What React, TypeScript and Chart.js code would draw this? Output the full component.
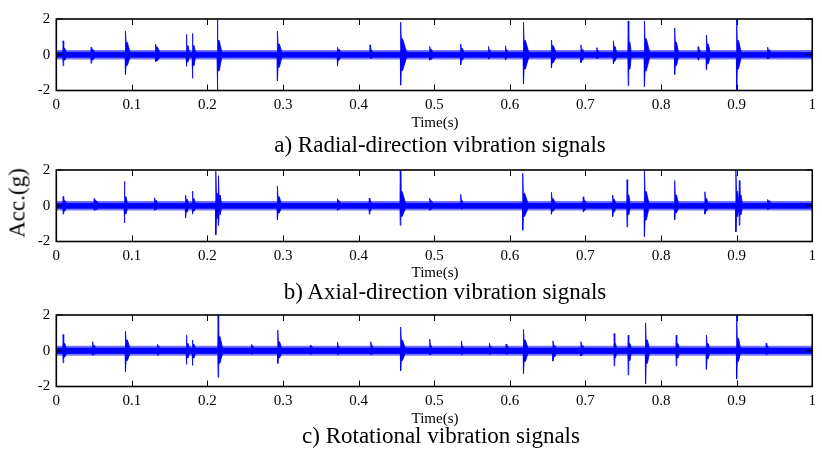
import React, { useEffect, useRef } from 'react';
import { Chart, registerables } from 'chart.js';

Chart.register(...registerables);

// ---------- data ----------
const timeTickValues = [0, 0.1, 0.2, 0.3, 0.4, 0.5, 0.6, 0.7, 0.8, 0.9, 1];
const timeTickLabels = ['0', '0.1', '0.2', '0.3', '0.4', '0.5', '0.6', '0.7', '0.8', '0.9', '1'];
const accTickValues = [-2, 0, 2];
const accTickLabels = ['-2', '0', '2'];

// noise floor of each signal: [dense core half-width, outer fringe half-width] (g)
const radialNoise = [0.14, 0.26];
const axialNoise = [0.14, 0.26];
const rotationalNoise = [0.15, 0.28];

// impact bursts: [time (s), peak (g), trough (g), body peak (g), body trough (g), duration (s)]
const radialBursts: number[][] = [
  [0.009, 0.78, -0.62, 0.35, -0.3, 0.004],
  [0.046, 0.42, -0.48, 0.3, -0.3, 0.005],
  [0.0915, 1.32, -1.1, 0.7, -0.6, 0.006],
  [0.131, 0.6, -0.39, 0.45, -0.35, 0.006],
  [0.172, 1.14, -0.65, 0.5, -0.4, 0.004],
  [0.18, 1.19, -1.32, 0.5, -0.6, 0.004],
  [0.213, 2.0, -2.0, 0.8, -0.9, 0.006],
  [0.2925, 1.32, -1.46, 0.6, -0.7, 0.006],
  [0.372, 0.42, -0.62, 0.3, -0.3, 0.004],
  [0.415, 0.55, -0.15, 0.3, -0.2, 0.003],
  [0.4555, 1.82, -1.7, 0.9, -0.9, 0.008],
  [0.494, 0.46, -0.3, 0.3, -0.25, 0.004],
  [0.535, 0.6, -0.56, 0.35, -0.3, 0.004],
  [0.5715, 0.47, -0.25, 0.3, -0.2, 0.003],
  [0.594, 0.5, -0.3, 0.3, -0.2, 0.003],
  [0.618, 1.82, -1.64, 0.8, -0.8, 0.007],
  [0.655, 0.82, -0.74, 0.5, -0.45, 0.006],
  [0.694, 0.55, -0.45, 0.3, -0.3, 0.004],
  [0.715, 0.4, -0.2, 0.25, -0.2, 0.003],
  [0.737, 0.78, -0.51, 0.45, -0.35, 0.004],
  [0.7565, 1.89, -1.73, 0.7, -0.8, 0.004],
  [0.778, 1.89, -1.77, 0.9, -0.9, 0.007],
  [0.818, 1.5, -1.1, 0.7, -0.6, 0.005],
  [0.849, 0.45, -0.3, 0.3, -0.2, 0.003],
  [0.86, 1.1, -0.83, 0.6, -0.5, 0.005],
  [0.9, 2.0, -2.0, 0.8, -0.8, 0.006],
  [0.941, 0.42, -0.22, 0.28, -0.2, 0.004],
];

const axialBursts: number[][] = [
  [0.009, 0.52, -0.47, 0.3, -0.3, 0.004],
  [0.05, 0.4, -0.25, 0.3, -0.22, 0.006],
  [0.09, 1.36, -0.96, 0.5, -0.45, 0.004],
  [0.13, 0.45, -0.25, 0.3, -0.2, 0.004],
  [0.171, 0.6, -0.68, 0.35, -0.35, 0.004],
  [0.18, 0.82, -0.47, 0.4, -0.3, 0.004],
  [0.211, 1.93, -1.63, 0.7, -0.7, 0.005],
  [0.2145, 1.68, -1.1, 0.6, -0.5, 0.004],
  [0.2925, 1.1, -0.79, 0.5, -0.4, 0.005],
  [0.372, 0.4, -0.25, 0.28, -0.2, 0.004],
  [0.414, 0.42, -0.47, 0.28, -0.3, 0.003],
  [0.455, 2.0, -1.1, 0.8, -0.6, 0.007],
  [0.494, 0.42, -0.25, 0.28, -0.2, 0.004],
  [0.535, 0.64, -0.15, 0.3, -0.18, 0.003],
  [0.617, 1.82, -1.37, 0.7, -0.6, 0.007],
  [0.655, 0.75, -0.47, 0.4, -0.3, 0.005],
  [0.697, 0.5, -0.35, 0.3, -0.25, 0.004],
  [0.736, 0.6, -0.61, 0.35, -0.35, 0.004],
  [0.755, 1.46, -1.19, 0.6, -0.5, 0.004],
  [0.778, 2.0, -1.72, 0.8, -0.8, 0.006],
  [0.818, 1.41, -0.79, 0.6, -0.4, 0.005],
  [0.858, 0.78, -0.47, 0.4, -0.3, 0.004],
  [0.899, 2.0, -1.46, 0.8, -0.6, 0.004],
  [0.9035, 1.41, -1.1, 0.6, -0.5, 0.004],
  [0.941, 0.35, -0.2, 0.28, -0.18, 0.004],
];

const rotationalBursts: number[][] = [
  [0.009, 0.91, -0.67, 0.4, -0.35, 0.004],
  [0.048, 0.51, -0.25, 0.3, -0.2, 0.004],
  [0.0915, 1.09, -1.16, 0.6, -0.55, 0.006],
  [0.134, 0.35, -0.25, 0.28, -0.2, 0.003],
  [0.172, 0.87, -0.76, 0.4, -0.4, 0.004],
  [0.18, 0.6, -0.82, 0.35, -0.4, 0.004],
  [0.214, 2.0, -1.49, 0.8, -0.7, 0.006],
  [0.258, 0.35, -0.2, 0.28, -0.18, 0.003],
  [0.293, 1.15, -0.71, 0.5, -0.4, 0.005],
  [0.336, 0.3, -0.2, 0.26, -0.18, 0.003],
  [0.372, 0.48, -0.22, 0.3, -0.2, 0.003],
  [0.416, 0.51, -0.2, 0.3, -0.2, 0.003],
  [0.4555, 1.33, -1.13, 0.6, -0.55, 0.006],
  [0.494, 0.65, -0.22, 0.3, -0.2, 0.003],
  [0.536, 0.55, -0.22, 0.3, -0.2, 0.003],
  [0.573, 0.42, -0.2, 0.28, -0.18, 0.003],
  [0.595, 0.38, -0.2, 0.28, -0.18, 0.003],
  [0.618, 1.2, -1.27, 0.6, -0.6, 0.006],
  [0.657, 0.55, -0.58, 0.3, -0.35, 0.004],
  [0.694, 0.51, -0.3, 0.3, -0.22, 0.004],
  [0.738, 0.96, -0.85, 0.4, -0.4, 0.003],
  [0.7565, 0.87, -1.35, 0.4, -0.55, 0.004],
  [0.7795, 1.56, -1.85, 0.6, -0.7, 0.005],
  [0.82, 0.87, -0.85, 0.4, -0.4, 0.004],
  [0.86, 0.87, -1.04, 0.4, -0.45, 0.004],
  [0.9, 2.0, -1.58, 0.7, -0.6, 0.005],
  [0.939, 0.42, -0.22, 0.28, -0.18, 0.003],
];

const captions = [
  'a) Radial-direction vibration signals',
  'b) Axial-direction vibration signals',
  'c) Rotational vibration signals',
];
const xAxisTitle = 'Time(s)';
const yAxisTitle = 'Acc.(g)';

// ---------- layout ----------
const FONT = '"Liberation Serif", "Times New Roman", Times, serif';
const SIGNAL_BLUE = '#0000ff';
const FRINGE_BLUE = 'rgba(30, 30, 255, 0.6)';
const CANVAS_W = 822;
const PAD_TOP = 12;
const PLOT_H = 74.5;
const X_AXIS_H = 26.5;
const CANVAS_H = PAD_TOP + PLOT_H + X_AXIS_H;
const PLOT_LEFT = 56.3;
const PLOT_RIGHT_PAD = 4;
const BODY_HOLD = 0.0025; // how long the dense body of a burst lasts before fading (s)

const panels = [
  { top: 15.7, bursts: radialBursts, noise: radialNoise, caption: captions[0], titleTop: 115, capTop: 133, capX: 440 },
  { top: 166.7, bursts: axialBursts, noise: axialNoise, caption: captions[1], titleTop: 264.5, capTop: 279.5, capX: 445 },
  { top: 312.3, bursts: rotationalBursts, noise: rotationalNoise, caption: captions[2], titleTop: 410.5, capTop: 424, capX: 441 },
];

// envelope outline through the read burst values; sign +1 upper, -1 lower
function envelope(bursts: number[][], base: number, sign: number) {
  const pts: { x: number; y: number }[] = [{ x: 0, y: sign * base }];
  bursts.forEach((b) => {
    const peak = sign > 0 ? b[1] : b[2];
    const body = sign > 0 ? b[3] : b[4];
    const hold = Math.min(BODY_HOLD, b[5] * 0.6);
    pts.push({ x: b[0] - 0.0004, y: sign * base });
    pts.push({ x: b[0], y: peak });
    pts.push({ x: b[0] + 0.0008, y: body });
    pts.push({ x: b[0] + hold, y: body });
    pts.push({ x: b[0] + b[5], y: sign * base });
  });
  pts.push({ x: 1, y: sign * base });
  pts.sort((a, b) => a.x - b.x);
  return pts;
}

function flatBand(base: number) {
  return [
    { x: 0, y: base },
    { x: 1, y: base },
  ];
}

const matlabBox = {
  id: 'matlabBox',
  afterDatasetsDraw(chart: any) {
    const { ctx, chartArea, scales } = chart;
    const { left, right, top, bottom } = chartArea;
    ctx.save();
    ctx.strokeStyle = '#000';
    ctx.lineWidth = 1;
    ctx.beginPath();
    timeTickValues.forEach((v) => {
      const px = Math.round(scales.x.getPixelForValue(v)) + 0.5;
      ctx.moveTo(px, top);
      ctx.lineTo(px, top + 6);
      ctx.moveTo(px, bottom);
      ctx.lineTo(px, bottom - 6);
    });
    accTickValues.forEach((v) => {
      const py = scales.y.getPixelForValue(v);
      ctx.moveTo(left, py);
      ctx.lineTo(left + 6, py);
      ctx.moveTo(right, py);
      ctx.lineTo(right - 6, py);
    });
    ctx.stroke();
    ctx.lineWidth = 1.6;
    ctx.strokeRect(left, top, right - left, bottom - top);
    ctx.restore();
  },
};

function SignalPanel({ top, bursts, noise }: { top: number; bursts: number[][]; noise: number[] }) {
  const ref = useRef<HTMLCanvasElement>(null);
  useEffect(() => {
    if (!ref.current) return;
    const ds = (data: { x: number; y: number }[], fill: any, color: string, bw: number) => ({
      data,
      fill,
      backgroundColor: color,
      borderColor: color,
      borderWidth: bw,
      pointRadius: 0,
      tension: 0,
    });
    const chart = new Chart(ref.current, {
      type: 'line',
      data: {
        datasets: [
          ds(envelope(bursts, noise[0], 1), '+1', SIGNAL_BLUE, 0.8),
          ds(envelope(bursts, noise[0], -1), false, SIGNAL_BLUE, 0.8),
          ds(flatBand(noise[1]), '+1', FRINGE_BLUE, 0),
          ds(flatBand(-noise[1]), false, FRINGE_BLUE, 0),
        ],
      },
      options: {
        animation: false,
        responsive: false,
        maintainAspectRatio: false,
        events: [],
        layout: { padding: { top: PAD_TOP, right: PLOT_RIGHT_PAD, left: 0, bottom: 0 }, autoPadding: false },
        plugins: { legend: { display: false }, tooltip: { enabled: false }, title: { display: false } },
        scales: {
          x: {
            type: 'linear',
            min: 0,
            max: 1,
            afterBuildTicks: (s: any) => {
              s.ticks = timeTickValues.map((v) => ({ value: v }));
            },
            ticks: {
              callback: (_v: any, i: number) => timeTickLabels[i],
              font: { family: FONT, size: 15 },
              color: '#000',
              padding: 6,
              maxRotation: 0,
              autoSkip: false,
            },
            grid: { display: false, drawTicks: false },
            border: { display: false },
            afterFit: (s: any) => {
              s.height = X_AXIS_H;
            },
          },
          y: {
            type: 'linear',
            min: -2,
            max: 2,
            afterBuildTicks: (s: any) => {
              s.ticks = accTickValues.map((v) => ({ value: v }));
            },
            ticks: {
              callback: (_v: any, i: number) => accTickLabels[i],
              font: { family: FONT, size: 15 },
              color: '#000',
              padding: 6,
              autoSkip: false,
            },
            grid: { display: false, drawTicks: false },
            border: { display: false },
            afterFit: (s: any) => {
              s.width = PLOT_LEFT;
            },
          },
        },
      } as any,
      plugins: [matlabBox],
    });
    return () => chart.destroy();
  }, []);
  return (
    <canvas
      ref={ref}
      width={CANVAS_W}
      height={CANVAS_H}
      style={{ position: 'absolute', left: 0, top: top - PAD_TOP, width: CANVAS_W, height: CANVAS_H }}
    />
  );
}

export default function App() {
  const textBase: React.CSSProperties = {
    position: 'absolute',
    fontFamily: FONT,
    color: '#000',
    lineHeight: 1,
    whiteSpace: 'nowrap',
  };
  return (
    <div style={{ position: 'absolute', left: 0, top: 0, width: 822, height: 449, background: '#fff', overflow: 'hidden' }}>
      {panels.map((p, i) => (
        <SignalPanel key={'c' + i} top={p.top} bursts={p.bursts} noise={p.noise} />
      ))}
      {panels.map((p, i) => (
        <React.Fragment key={'t' + i}>
          <div style={{ ...textBase, fontSize: 15, left: 435, top: p.titleTop, transform: 'translateX(-50%)' }}>{xAxisTitle}</div>
          <div style={{ ...textBase, fontSize: 23, left: p.capX, top: p.capTop, transform: 'translateX(-50%)' }}>{p.caption}</div>
        </React.Fragment>
      ))}
      <div style={{ ...textBase, fontSize: 23, left: 17, top: 203, transform: 'translate(-50%, -50%) rotate(-90deg)' }}>{yAxisTitle}</div>
    </div>
  );
}
